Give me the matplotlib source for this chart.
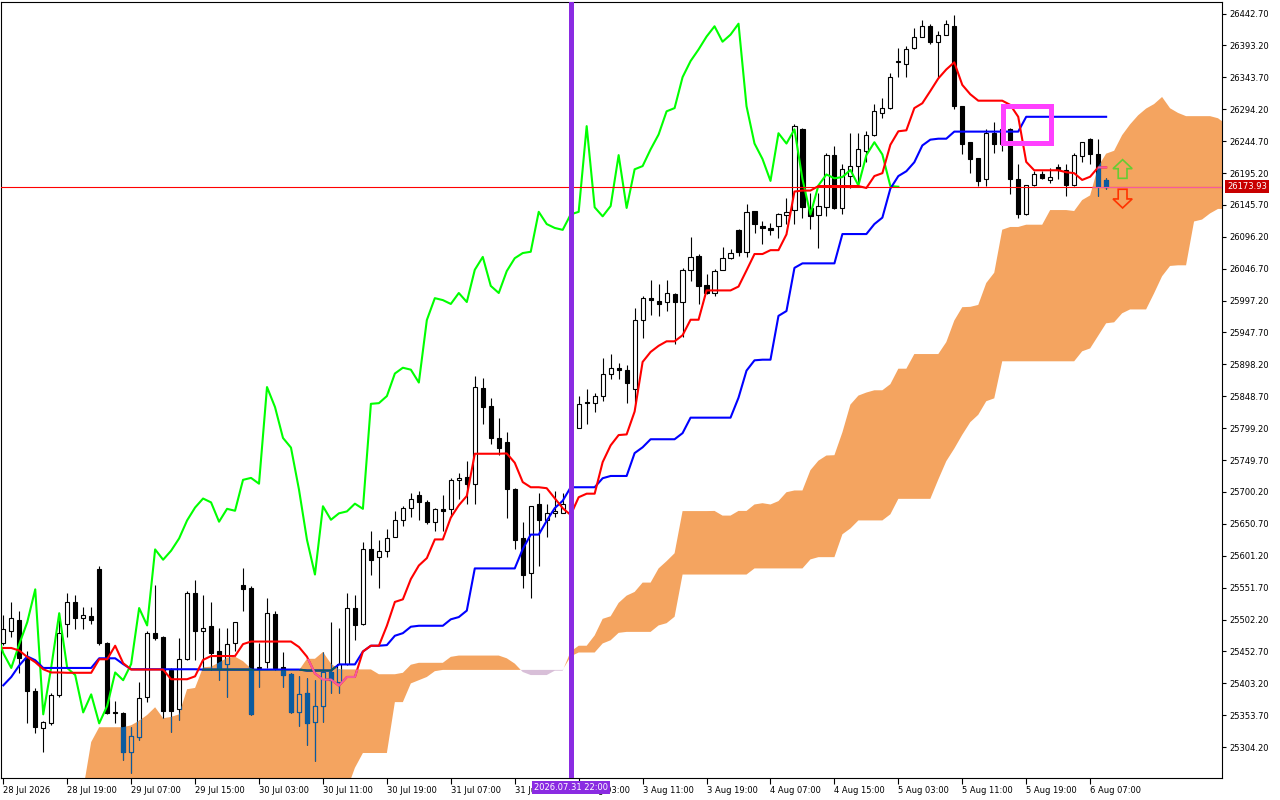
import numpy as np
import pandas as pd
import matplotlib
matplotlib.use("Agg")
import matplotlib.pyplot as plt
import matplotlib.transforms as mtransforms
from matplotlib.path import Path
from matplotlib.patches import Rectangle, FancyArrow

# hourly bars (bar 0 = first bar on the left)
opens = [25465, 25484, 25502, 25442, 25392, 25334, 25341, 25385, 25495, 25529,
         25504, 25507, 25580, 25465, 25358, 25357, 25296, 25320, 25382, 25482,
         25475, 25424, 25363, 25441, 25543, 25484, 25492, 25453, 25433, 25465,
         25555, 25551, 25427, 25436, 25510, 25428, 25417, 25358, 25388, 25343,
         25368, 25420, 25405, 25433, 25520, 25495, 25611, 25599, 25609, 25630,
         25656, 25676, 25695, 25685, 25654, 25673, 25673, 25719, 25724, 25712,
         25862, 25834, 25784, 25777, 25704, 25628, 25574, 25681, 25657, 25667,
         25668, 25681, 25800, 25840, 25839, 25849, 25884, 25893, 25890, 25860,
         25967, 26001, 25997, 25995, 26007, 25995, 26045, 26066, 26021, 26009,
         26045, 26063, 26107, 26073, 26136, 26113, 26110, 26113, 26130, 26138,
         26263, 26141, 26130, 26142, 26223, 26141, 26190, 26206, 26230, 26255,
         26288, 26296, 26367, 26365, 26389, 26407, 26424, 26399, 26410, 26424,
         26299, 26243, 26218, 26186, 26257, 26241, 26263, 26186, 26131, 26176,
         26193, 26184, 26204, 26200, 26176, 26221, 26248, 26224, 26184]
highs = [25509, 25530, 25515, 25454, 25396, 25345, 25388, 25512, 25543, 25541,
         25521, 25521, 25585, 25467, 25375, 25358, 25335, 25405, 25484, 25555,
         25476, 25427, 25473, 25546, 25564, 25541, 25529, 25489, 25489, 25499,
         25582, 25554, 25465, 25535, 25516, 25451, 25419, 25414, 25411, 25408,
         25451, 25499, 25489, 25543, 25540, 25622, 25640, 25625, 25642, 25671,
         25679, 25699, 25702, 25687, 25676, 25695, 25722, 25729, 25749, 25880,
         25877, 25846, 25815, 25794, 25706, 25653, 25679, 25698, 25681, 25701,
         25698, 25690, 25849, 25860, 25854, 25908, 25915, 25901, 25898, 25986,
         26004, 26029, 26023, 26029, 26009, 26048, 26096, 26069, 26038, 26046,
         26080, 26077, 26108, 26147, 26137, 26120, 26117, 26133, 26156, 26271,
         26265, 26164, 26164, 26226, 26237, 26210, 26257, 26257, 26260, 26302,
         26311, 26350, 26389, 26392, 26420, 26432, 26426, 26415, 26432, 26440,
         26300, 26244, 26219, 26263, 26274, 26268, 26265, 26209, 26176, 26198,
         26198, 26203, 26210, 26209, 26226, 26244, 26249, 26248, 26187]
lows = [25462, 25475, 25419, 25341, 25326, 25296, 25338, 25382, 25475, 25487,
        25487, 25495, 25462, 25355, 25341, 25284, 25264, 25315, 25374, 25470,
        25349, 25327, 25346, 25439, 25439, 25427, 25424, 25408, 25382, 25454,
        25516, 25354, 25397, 25427, 25424, 25397, 25357, 25337, 25307, 25283,
        25343, 25388, 25388, 25431, 25470, 25493, 25572, 25551, 25599, 25630,
        25647, 25661, 25657, 25651, 25639, 25640, 25661, 25690, 25682, 25682,
        25806, 25775, 25758, 25659, 25611, 25551, 25535, 25585, 25630, 25662,
        25668, 25664, 25800, 25806, 25825, 25842, 25876, 25876, 25839, 25839,
        25939, 25975, 25973, 25981, 25930, 25941, 26028, 25992, 26008, 26004,
        26044, 26062, 26066, 26065, 26102, 26085, 26099, 26094, 26116, 26116,
        26125, 26108, 26079, 26128, 26139, 26131, 26172, 26175, 26213, 26252,
        26280, 26295, 26345, 26344, 26388, 26406, 26395, 26345, 26409, 26294,
        26224, 26195, 26175, 26175, 26226, 26229, 26162, 26125, 26130, 26175,
        26186, 26179, 26186, 26159, 26175, 26213, 26210, 26159, 26170]
closes = [25487, 25504, 25442, 25391, 25335, 25343, 25385, 25481, 25530, 25504,
          25509, 25502, 25465, 25357, 25357, 25296, 25321, 25380, 25482, 25473,
          25360, 25360, 25441, 25544, 25484, 25489, 25450, 25427, 25464, 25498,
          25549, 25355, 25428, 25512, 25427, 25416, 25358, 25386, 25341, 25368,
          25420, 25408, 25433, 25520, 25493, 25611, 25595, 25609, 25628, 25656,
          25676, 25690, 25684, 25654, 25674, 25671, 25719, 25722, 25713, 25863,
          25832, 25784, 25769, 25704, 25626, 25572, 25678, 25657, 25667, 25670,
          25682, 25674, 25837, 25838, 25849, 25884, 25893, 25890, 25870, 25967,
          26001, 25998, 25992, 26009, 25995, 26045, 26065, 26020, 26009, 26043,
          26063, 26071, 26073, 26135, 26116, 26110, 26107, 26131, 26135, 26268,
          26142, 26128, 26144, 26223, 26141, 26201, 26206, 26232, 26255, 26291,
          26296, 26344, 26369, 26387, 26407, 26423, 26399, 26410, 26427, 26299,
          26241, 26217, 26183, 26257, 26241, 26263, 26186, 26131, 26176, 26193,
          26187, 26189, 26200, 26176, 26223, 26243, 26224, 26175, 26173.93]

# Ichimoku values that depend on bars left of the visible window
tenkan_head = [25458, 25458, 25454, 25444, 25436, 25425, 25420, 25420]          # bars 0-7
kijun_head = [25400, 25413, 25431, 25445, 25439, 25427, 25427, 25427, 25427,
              25427, 25427, 25427, 25442, 25442, 25442, 25433, 25425, 25425,
              25425, 25425, 25425, 25425, 25425, 25425, 25425]                   # bars 0-24
span_a_head = [25238, 25312, 25335, 25335, 25335, 25335, 25338, 25345, 25354,
               25366, 25349, 25351, 25355, 25394, 25396, 25428]                 # cloud bars 10-25
# cloud bars 10-76 (bars 10-42 lie below the visible range)
span_b_head = [25222] * 33 + [25238, 25272, 25295, 25295, 25295, 25295, 25374,
                              25374, 25403, 25408, 25413, 25422] + [25424] * 16 + \
              [25445, 25451, 25451, 25451, 25465, 25470]

tick_bars = [0, 8, 16, 24, 32, 40, 48, 56, 64, 72, 80, 88, 96, 104, 112, 120, 128, 136]
tick_labels = ["28 Jul 2026", "28 Jul 19:00", "29 Jul 07:00", "29 Jul 15:00",
               "30 Jul 03:00", "30 Jul 11:00", "30 Jul 19:00", "31 Jul 07:00",
               "31 Jul 15:00", "3 Aug 03:00", "3 Aug 11:00", "3 Aug 19:00",
               "4 Aug 07:00", "4 Aug 15:00", "5 Aug 03:00", "5 Aug 11:00",
               "5 Aug 19:00", "6 Aug 07:00"]
price_ticks = [25304.20, 25353.70, 25403.20, 25452.70, 25502.20, 25551.70,
               25601.20, 25650.70, 25700.20, 25749.70, 25799.20, 25848.70,
               25898.20, 25947.70, 25997.20, 26046.70, 26096.20, 26145.70,
               26195.20, 26244.70, 26294.20, 26343.70, 26393.20, 26442.70]

last_price = 26173.93
vline_bar = 71
vline_label = "2026.07.31 22:00"
box_bars = (125.06, 131.06)
box_prices = (26241.3, 26299.4)
arrow_bar = 140.06
up_arrow = (26187, 26216)
down_arrow = (26170, 26141)

# ichimoku from the bars
n = len(closes)
shift = 26
h = pd.Series(highs, dtype=float)
l = pd.Series(lows, dtype=float)
tenkan = ((h.rolling(9).max() + l.rolling(9).min()) / 2).to_numpy()
tenkan[:8] = tenkan_head
kijun = ((h.rolling(26).max() + l.rolling(26).min()) / 2).to_numpy()
kijun[:25] = kijun_head
span_b_raw = ((h.rolling(52).max() + l.rolling(52).min()) / 2).to_numpy()

span_a = np.full(n + shift, np.nan)
span_a[shift:] = (tenkan + kijun) / 2
span_a[10:26] = span_a_head
span_b = np.full(n + shift, np.nan)
span_b[shift + 51:] = span_b_raw[51:]
span_b[10:77] = span_b_head

x = np.arange(n)
o = np.array(opens, dtype=float)
c = np.array(closes, dtype=float)
bottoms = np.minimum(o, c)
heights = np.abs(c - o)

fig = plt.figure(figsize=(12.8, 8), dpi=100)
ax = fig.add_axes([0.001, 0.0275, 0.9537, 0.9705])
ax.set_xlim(-0.25, 152.5)
ax.set_ylim(25256.2, 26461.3)

# cloud
cx = np.arange(10, n + shift)
a = span_a[10:]
b = span_b[10:]
bull = ax.fill_between(cx, a, b, where=a >= b, interpolate=True,
                       facecolor="#F4A460", linewidth=0, zorder=1)
ax.fill_between(cx, a, b, where=a < b, interpolate=True,
                facecolor="#D8BFD8", linewidth=0, zorder=1)
cloud_clip = Path.make_compound_path(*bull.get_paths())


def draw_candles(wick, up_face, down_face, edge, z, clip=None):
    wl = ax.vlines(x, lows, highs, colors=wick, linewidth=0.8, zorder=z)
    faces = [up_face if cc >= oo else down_face for oo, cc in zip(opens, closes)]
    bars = ax.bar(x, heights, width=0.52, bottom=bottoms, color=faces,
                  edgecolor=edge, linewidth=0.8, zorder=z + 0.1)
    if clip is not None:
        wl.set_clip_path(clip, ax.transData)
        for p in bars:
            p.set_clip_path(clip, ax.transData)


def draw_lines(colors, z, clip=None):
    arts = []
    arts += ax.plot(x - shift, closes, color=colors[2], linewidth=1.5, zorder=z)
    arts += ax.plot(x, kijun, color=colors[1], linewidth=1.5, zorder=z)
    arts += ax.plot(x, tenkan, color=colors[0], linewidth=1.5, zorder=z)
    arts.append(ax.axhline(last_price, color=colors[0], linewidth=0.8, zorder=z))
    if clip is not None:
        for art in arts:
            art.set_clip_path(clip, ax.transData)


draw_candles("black", "white", "black", "black", 2)
draw_lines(["#FF0000", "#0000FF", "#00FF00"], 3)
# inside the cloud the terminal inverts the colours
draw_candles("#0B5B9F", "#F4A460", "#0B5B9F", "#0B5B9F", 4, cloud_clip)
draw_lines(["#F45B9F", "#0B5B60", "#0BA49F"], 5, cloud_clip)

ax.axvline(vline_bar, color="#8A2BE2", linewidth=3.6, zorder=6)

ax.add_patch(Rectangle((box_bars[0], box_prices[0]), box_bars[1] - box_bars[0],
                       box_prices[1] - box_prices[0], fill=False,
                       edgecolor="#FF40FF", linewidth=3.6, zorder=7))
ax.add_patch(FancyArrow(arrow_bar, up_arrow[0], 0, up_arrow[1] - up_arrow[0],
                        width=1.1, head_width=2.4, head_length=14,
                        length_includes_head=True, fill=False,
                        edgecolor="#66CC33", linewidth=1.2, zorder=7))
ax.add_patch(FancyArrow(arrow_bar, down_arrow[0], 0, down_arrow[1] - down_arrow[0],
                        width=1.1, head_width=2.4, head_length=14,
                        length_includes_head=True, fill=False,
                        edgecolor="#FF3300", linewidth=1.2, zorder=7))

# axes
ax.set_xticks(tick_bars)
ax.set_xticklabels(tick_labels, fontsize=6, ha="left")
ax.tick_params(axis="x", direction="out", length=4, width=0.8, pad=2)
ax.yaxis.tick_right()
ax.set_yticks(price_ticks)
ax.set_yticklabels([f"{v:.2f}" for v in price_ticks], fontsize=6)
ax.tick_params(axis="y", direction="out", length=3, width=0.8, pad=2)
for s in ax.spines.values():
    s.set_linewidth(0.8)
    s.set_color("black")

ytrans = mtransforms.blended_transform_factory(ax.transAxes, ax.transData)
ax.text(1.004, last_price, f"{last_price:.2f}", transform=ytrans, ha="left",
        va="center", fontsize=6, color="white", clip_on=False, zorder=10,
        bbox=dict(boxstyle="square,pad=0.25", facecolor="#C80000", edgecolor="none"))

xtrans = mtransforms.blended_transform_factory(ax.transData, ax.transAxes)
ax.text(vline_bar, -0.0125, vline_label, transform=xtrans, ha="center",
        va="center", fontsize=6, color="white", clip_on=False, zorder=10,
        bbox=dict(boxstyle="square,pad=0.25", facecolor="#8A2BE2", edgecolor="none"))

fig.savefig("out.png", dpi=100)
print("Saved out.png")
